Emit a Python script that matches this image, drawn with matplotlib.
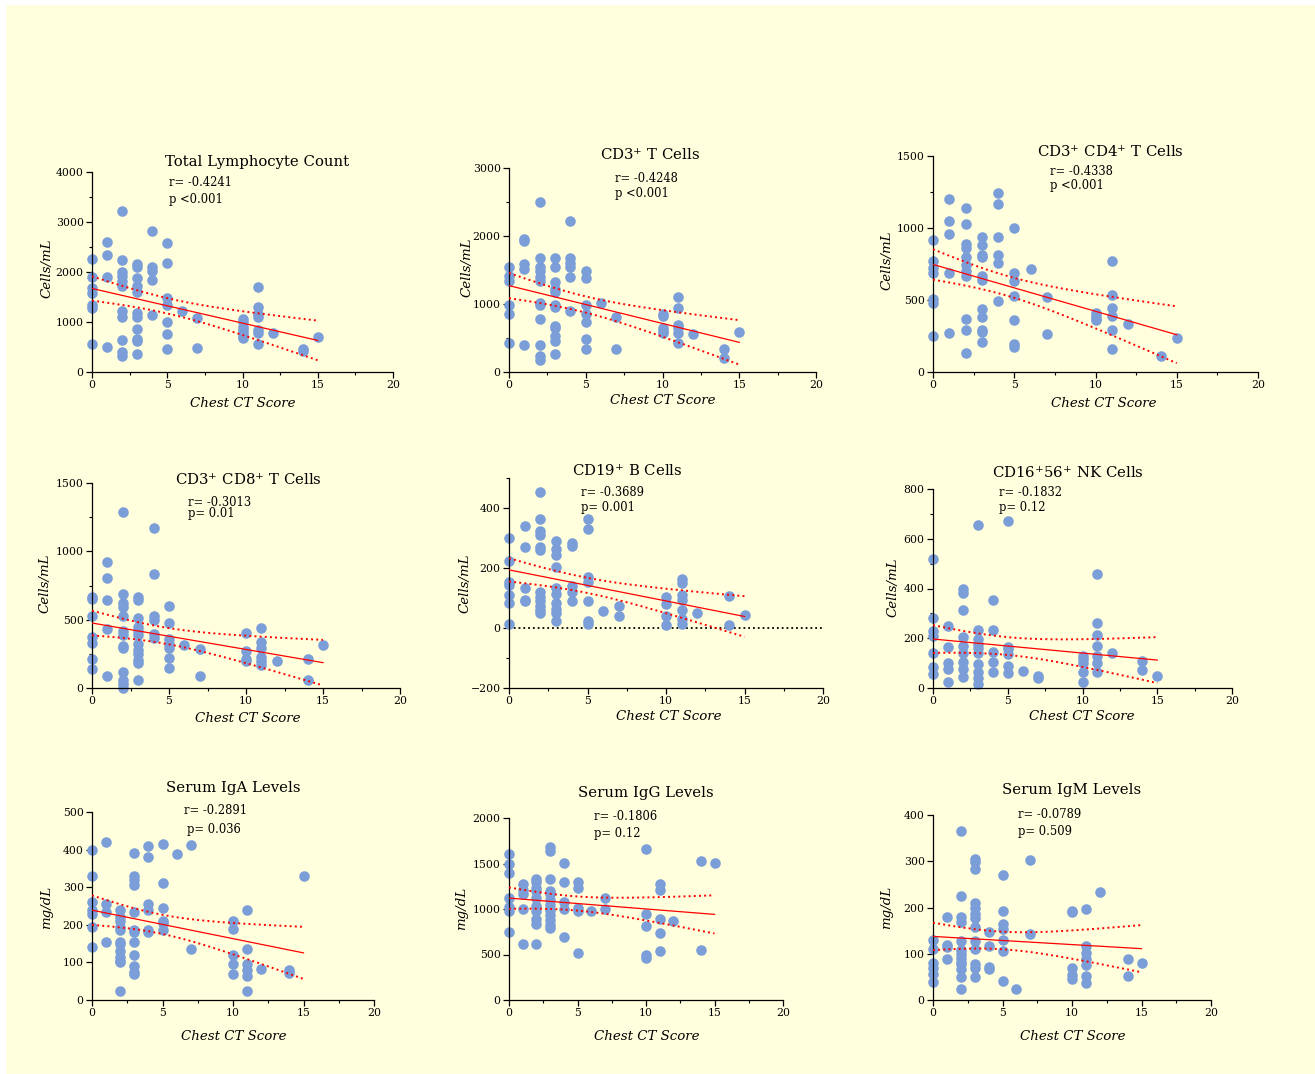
import numpy as np
import matplotlib
matplotlib.use("Agg")
import matplotlib.pyplot as plt
from matplotlib.patches import Rectangle
from matplotlib.ticker import MultipleLocator

plt.rcParams["font.family"] = ["DejaVu Serif"]
plt.rcParams["mathtext.fontset"] = "dejavuserif"

# --------------------------------------------------------------
# Data (x = chest CT score)
# --------------------------------------------------------------
tlc_x = [0, 0, 0, 0, 0, 0, 0,
         1, 1, 1, 1,
         2, 2, 2, 2, 2, 2, 2, 2, 2, 2, 2,
         3, 3, 3, 3, 3, 3, 3, 3, 3, 3, 3,
         4, 4, 4, 4, 4,
         5, 5, 5, 5, 5, 5, 5,
         6, 7, 7,
         10, 10, 10, 10, 10, 10, 10,
         11, 11, 11, 11, 11, 11, 11,
         12, 14, 14, 15]
tlc_y = [2260, 1890, 1680, 1580, 1330, 1270, 570,
         2600, 2340, 1890, 510,
         3220, 2230, 2000, 1910, 1820, 1710, 1210, 1090, 650, 400, 330,
         2150, 2090, 1870, 1710, 1590, 1180, 1100, 870, 660, 620, 370,
         2820, 2090, 2010, 1830, 1130,
         2570, 2170, 1480, 1330, 1000, 770, 470,
         1220, 1080, 480,
         1050, 1000, 910, 850, 790, 720, 690,
         1690, 1300, 1160, 1090, 840, 780, 570,
         780, 470, 430, 710]

cd3_x = [0, 0, 0, 0, 0, 0,
         1, 1, 1, 1, 1,
         2, 2, 2, 2, 2, 2, 2, 2, 2, 2, 2, 2,
         3, 3, 3, 3, 3, 3, 3, 3, 3, 3, 3, 3,
         4, 4, 4, 4, 4, 4,
         5, 5, 5, 5, 5, 5, 5,
         6, 7, 7,
         10, 10, 10, 10, 10,
         11, 11, 11, 11, 11, 11,
         12, 14, 14, 15]
cd3_y = [1550, 1410, 1340, 990, 860, 420,
         1950, 1920, 1590, 1520, 390,
         2500, 1680, 1550, 1490, 1400, 1340, 1010, 990, 780, 400, 230, 180,
         1680, 1550, 1330, 1220, 1170, 990, 960, 680, 645, 530, 450, 270,
         2220, 1680, 1610, 1550, 1390, 890,
         1490, 1380, 980, 860, 730, 490, 340,
         1020, 810, 340,
         860, 830, 650, 600, 570,
         1100, 940, 690, 640, 570, 420,
         560, 340, 210, 590]

cd4_x = [0, 0, 0, 0, 0, 0, 0,
         1, 1, 1, 1, 1,
         2, 2, 2, 2, 2, 2, 2, 2, 2, 2, 2,
         3, 3, 3, 3, 3, 3, 3, 3, 3, 3, 3,
         4, 4, 4, 4, 4, 4,
         5, 5, 5, 5, 5, 5, 5,
         6, 7, 7,
         10, 10, 10, 10,
         11, 11, 11, 11, 11, 11,
         12, 14, 15]
cd4_y = [920, 770, 720, 690, 510, 480, 250,
         1200, 1050, 960, 685, 270,
         1140, 1030, 890, 860, 800, 740, 700, 670, 370, 290, 130,
         940, 880, 810, 800, 670, 640, 440, 385, 295, 275, 205,
         1240, 1170, 935, 815, 760, 495,
         1000, 685, 630, 525, 360, 195, 175,
         718, 524, 261,
         410, 390, 370, 360,
         770, 535, 445, 390, 295, 160,
         332, 108, 235]

cd8_x = [0, 0, 0, 0, 0, 0, 0,
         1, 1, 1, 1, 1,
         2, 2, 2, 2, 2, 2, 2, 2, 2, 2, 2, 2, 2,
         3, 3, 3, 3, 3, 3, 3, 3, 3, 3, 3, 3,
         4, 4, 4, 4, 4, 4,
         5, 5, 5, 5, 5, 5, 5,
         6, 7, 7,
         10, 10, 10, 10,
         11, 11, 11, 11, 11, 11,
         12, 14, 14, 15]
cd8_y = [665, 650, 525, 375, 330, 210, 140,
         920, 805, 645, 435, 90,
         1290, 690, 625, 590, 530, 415, 390, 310, 290, 115, 60, 30, 0,
         665, 645, 510, 450, 415, 390, 320, 280, 250, 205, 185, 60,
         1170, 835, 525, 500, 395, 365,
         600, 475, 355, 320, 290, 220, 145,
         312, 288, 90,
         400, 270, 215, 200,
         440, 340, 295, 225, 200, 165,
         200, 212, 61, 312]

cd19_x = [0, 0, 0, 0, 0, 0, 0,
          1, 1, 1, 1, 1,
          2, 2, 2, 2, 2, 2, 2, 2, 2, 2, 2, 2,
          3, 3, 3, 3, 3, 3, 3, 3, 3, 3,
          4, 4, 4, 4, 4,
          5, 5, 5, 5, 5, 5, 5,
          6, 7, 7,
          10, 10, 10, 10,
          11, 11, 11, 11, 11, 11, 11,
          12, 14, 14, 15]
cd19_y = [300, 225, 155, 145, 110, 85, 15,
          340, 270, 135, 95, 90,
          455, 365, 325, 310, 270, 260, 120, 105, 90, 75, 60, 50,
          290, 265, 245, 205, 135, 115, 85, 65, 50, 25,
          285, 275, 140, 120, 90,
          365, 330, 170, 155, 90, 25, 15,
          56, 72, 41,
          105, 80, 40, 10,
          165, 150, 110, 95, 60, 30, 15,
          50, 108, 11, 42]

nk_x = [0, 0, 0, 0, 0, 0, 0,
        1, 1, 1, 1, 1,
        2, 2, 2, 2, 2, 2, 2, 2, 2,
        3, 3, 3, 3, 3, 3, 3, 3, 3, 3,
        4, 4, 4, 4, 4,
        5, 5, 5, 5, 5, 5,
        6, 7, 7,
        10, 10, 10, 10, 10,
        11, 11, 11, 11, 11, 11, 11,
        12, 14, 14, 15]
nk_y = [520, 280, 230, 210, 140, 85, 55,
        250, 165, 100, 75, 25,
        400, 380, 315, 205, 170, 140, 105, 75, 45,
        655, 235, 195, 175, 160, 140, 95, 65, 40, 15,
        355, 235, 145, 105, 65,
        670, 165, 155, 135, 90, 60,
        67, 50, 40,
        130, 115, 100, 65, 25,
        460, 260, 215, 170, 130, 100, 65,
        141, 110, 74, 47]

iga_x = [0, 0, 0, 0, 0, 0, 0,
         1, 1, 1, 1,
         2, 2, 2, 2, 2, 2, 2, 2, 2, 2, 2, 2,
         3, 3, 3, 3, 3, 3, 3, 3, 3, 3, 3, 3,
         4, 4, 4, 4, 4, 4,
         5, 5, 5, 5, 5, 5,
         6, 7, 7,
         10, 10, 10, 10, 10,
         11, 11, 11, 11, 11, 11,
         12, 14, 14, 15]
iga_y = [400, 330, 260, 240, 230, 195, 140,
         420, 255, 235, 155,
         240, 220, 210, 195, 185, 155, 150, 130, 115, 105, 100, 25,
         390, 330, 320, 305, 235, 185, 180, 155, 120, 90, 75, 68,
         410, 380, 255, 240, 185, 180,
         415, 310, 245, 210, 205, 185,
         389, 413, 135,
         210, 190, 120, 95, 68,
         240, 135, 95, 80, 65, 25,
         83, 81, 73, 331]

igg_x = [0, 0, 0, 0, 0, 0, 0,
         1, 1, 1, 1, 1,
         2, 2, 2, 2, 2, 2, 2, 2, 2, 2,
         3, 3, 3, 3, 3, 3, 3, 3, 3, 3, 3, 3,
         4, 4, 4, 4, 4,
         5, 5, 5, 5, 5,
         6, 7, 7,
         10, 10, 10, 10, 10,
         11, 11, 11, 11, 11,
         12, 14, 14, 15]
igg_y = [1600, 1490, 1400, 1120, 1020, 975, 745,
         1270, 1210, 1160, 1000, 610,
         1335, 1300, 1235, 1200, 1125, 1030, 975, 890, 835, 620,
         1680, 1635, 1330, 1200, 1165, 1100, 1045, 990, 935, 880, 825, 790,
         1510, 1300, 1075, 1000, 690,
         1300, 1230, 1010, 980, 520,
         973, 1118, 1002,
         1655, 945, 815, 490, 465,
         1270, 1210, 890, 735, 535,
         871, 1530, 554, 1501]

igm_x = [0, 0, 0, 0, 0, 0,
         1, 1, 1, 1,
         2, 2, 2, 2, 2, 2, 2, 2, 2, 2, 2, 2, 2,
         3, 3, 3, 3, 3, 3, 3, 3, 3, 3, 3, 3, 3,
         4, 4, 4, 4,
         5, 5, 5, 5, 5, 5, 5,
         6, 7, 7,
         10, 10, 10, 10, 10,
         11, 11, 11, 11, 11, 11, 11,
         12, 14, 14, 15]
igm_y = [130, 110, 80, 70, 57, 40,
         180, 120, 115, 88,
         365, 225, 180, 168, 128, 108, 100, 90, 83, 78, 66, 50, 24,
         305, 298, 283, 210, 198, 186, 177, 157, 127, 110, 77, 70, 50,
         147, 116, 71, 66,
         270, 192, 165, 154, 129, 106, 42,
         24, 302, 143,
         193, 190, 70, 55, 46,
         197, 116, 102, 89, 75, 52, 37,
         233, 89, 52, 80]

titles = ["Total Lymphocyte Count", "CD3$^{+}$ T Cells", "CD3$^{+}$ CD4$^{+}$ T Cells",
          "CD3$^{+}$ CD8$^{+}$ T Cells", "CD19$^{+}$ B Cells", "CD16$^{+}$56$^{+}$ NK Cells",
          "Serum IgA Levels", "Serum IgG Levels", "Serum IgM Levels"]
r_texts = ["r= -0.4241", "r= -0.4248", "r= -0.4338", "r= -0.3013", "r= -0.3689",
           "r= -0.1832", "r= -0.2891", "r= -0.1806", "r= -0.0789"]
p_texts = ["p <0.001", "p <0.001", "p <0.001", "p= 0.01", "p= 0.001",
           "p= 0.12", "p= 0.036", "p= 0.12", "p= 0.509"]
y_units = ["Cells/mL"] * 6 + ["mg/dL"] * 3

xs_all = [tlc_x, cd3_x, cd4_x, cd8_x, cd19_x, nk_x, iga_x, igg_x, igm_x]
ys_all = [tlc_y, cd3_y, cd4_y, cd8_y, cd19_y, nk_y, iga_y, igg_y, igm_y]

# --------------------------------------------------------------
# Layout (pixel positions in the 1315x1074 canvas)
# --------------------------------------------------------------
W, H = 1315, 1074
# left, right, top, bottom of each plot area in pixels
boxes = [(92, 393, 172, 372), (509, 816, 168, 372), (933, 1258, 156, 372),
         (92, 400, 483, 688), (509, 823, 478, 688), (933, 1232, 489, 688),
         (92, 374, 812, 1000), (509, 783, 818, 1000), (933, 1211, 815, 1000)]
ylims = [(0, 4000), (0, 3000), (0, 1500), (0, 1500), (-200, 500), (0, 800),
         (0, 500), (0, 2000), (0, 400)]
ymajor = [1000, 1000, 500, 500, 200, 200, 100, 500, 100]
yminor = [500, 500, 250, 250, 100, 100, None, None, None]
title_pos = [(257, 162), (650, 155), (1110, 152), (248, 480), (627, 471),
             (1068, 473), (233, 788), (646, 793), (1072, 790)]
r_pos = [(169, 183), (615, 179), (1050, 172), (188, 502), (581, 492),
         (999, 493), (184, 811), (594, 817), (1018, 814)]
p_pos = [(169, 200), (615, 193), (1050, 186), (188, 514), (581, 507),
         (999, 507), (187, 830), (594, 834), (1018, 832)]
xlab_pos = [(243, 403), (663, 400), (1104, 403), (248, 719), (669, 716),
            (1082, 716), (234, 1037), (647, 1036), (1073, 1036)]
ylab_pos = [(47, 268), (467, 267), (887, 260), (45, 583), (465, 583),
            (893, 587), (47, 907), (462, 908), (887, 907)]

dot_color = "#7B9ED9"
bg_color = "#FFFFDD"

fig = plt.figure(figsize=(W / 100, H / 100), dpi=100)
fig.patch.set_facecolor("white")
fig.patches.append(Rectangle((6 / W, 0), 1 - 6 / W, 1 - 5 / H,
                             transform=fig.transFigure, facecolor=bg_color,
                             edgecolor="none", zorder=-10))


def fpos(px, py):
    return px / W, 1 - py / H


for i in range(9):
    l, r, t, b = boxes[i]
    ax = fig.add_axes([l / W, 1 - b / H, (r - l) / W, (b - t) / H])
    ax.set_facecolor("none")

    x = np.array(xs_all[i], dtype=float)
    y = np.array(ys_all[i], dtype=float)

    # linear fit and 95% confidence band of the regression line
    n = len(x)
    slope, intercept = np.polyfit(x, y, 1)
    resid = y - (slope * x + intercept)
    s = np.sqrt(np.sum(resid ** 2) / (n - 2))
    xbar = x.mean()
    sxx = np.sum((x - xbar) ** 2)
    xf = np.linspace(x.min(), x.max(), 200)
    yf = slope * xf + intercept
    half = 1.99 * s * np.sqrt(1 / n + (xf - xbar) ** 2 / sxx)

    if i == 4:
        ax.axhline(0, color="black", ls=":", lw=1.3, zorder=1)

    ax.plot(x, y, "o", color=dot_color, markersize=7.6, markeredgewidth=0,
            zorder=2, clip_on=False)
    ax.plot(xf, yf, color="red", lw=0.9, zorder=3)
    ax.plot(xf, yf + half, color="red", lw=1.4, ls=":", zorder=3)
    ax.plot(xf, yf - half, color="red", lw=1.4, ls=":", zorder=3)

    ax.set_xlim(0, 20)
    ax.set_ylim(*ylims[i])
    ax.xaxis.set_major_locator(MultipleLocator(5))
    ax.xaxis.set_minor_locator(MultipleLocator(2.5))
    ax.yaxis.set_major_locator(MultipleLocator(ymajor[i]))
    if yminor[i]:
        ax.yaxis.set_minor_locator(MultipleLocator(yminor[i]))
    if i == 4:
        ax.set_yticks([-200, 0, 200, 400])

    for side in ["top", "right"]:
        ax.spines[side].set_visible(False)
    for side in ["left", "bottom"]:
        ax.spines[side].set_linewidth(0.9)
    ax.tick_params(which="major", direction="out", length=4, width=0.9,
                   labelsize=7.8, pad=2)
    ax.tick_params(which="minor", direction="out", length=2.5, width=0.8)

    ax.set_xlabel("Chest CT Score", fontsize=9.6, style="italic")
    ax.set_ylabel(y_units[i], fontsize=9.6, style="italic")
    ax.xaxis.set_label_coords(*fpos(*xlab_pos[i]), transform=fig.transFigure)
    ax.yaxis.set_label_coords(*fpos(*ylab_pos[i]), transform=fig.transFigure)
    ax.xaxis.label.set_va("center")
    ax.yaxis.label.set_va("center")

    fig.text(*fpos(*title_pos[i]), titles[i], fontsize=10.7, ha="center", va="center")
    fig.text(*fpos(*r_pos[i]), r_texts[i], fontsize=8.3, ha="left", va="center")
    fig.text(*fpos(*p_pos[i]), p_texts[i], fontsize=8.3, ha="left", va="center")

fig.savefig("out.png", dpi=100, facecolor=fig.get_facecolor())
